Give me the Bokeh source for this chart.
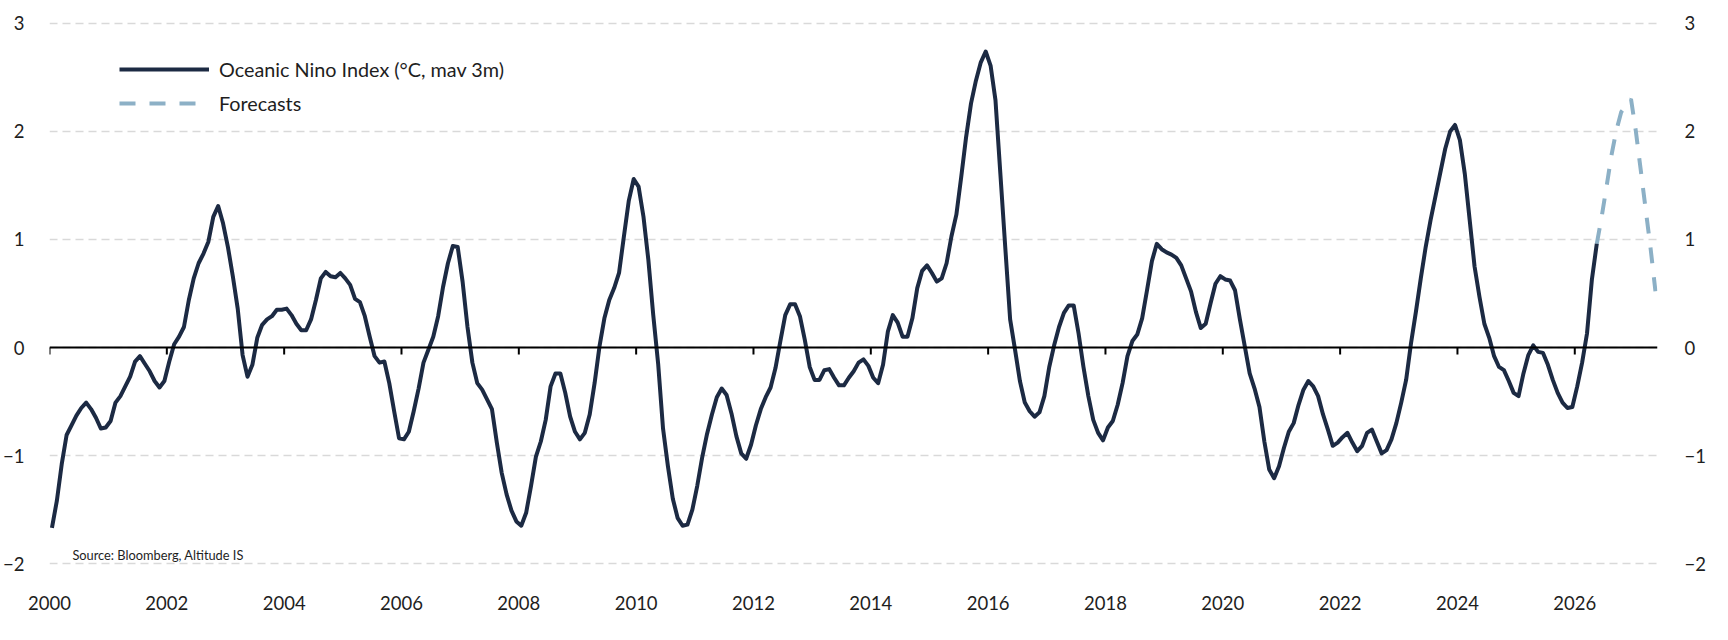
import numpy as np
from bokeh.plotting import figure
from bokeh.models import Range1d, FixedTicker, LinearAxis, Span, Legend, LegendItem, Label
from bokeh.embed import file_html
from bokeh.resources import INLINE

# ---------------- data (monthly, starting Jan 2000) ----------------
START_YEAR = 2000
oni = [
    # 2000
    -1.67, -1.42, -1.08, -0.81, -0.72, -0.63, -0.56, -0.51, -0.57, -0.65, -0.75, -0.74,
    # 2001
    -0.68, -0.51, -0.45, -0.36, -0.27, -0.13, -0.08, -0.15, -0.22, -0.31, -0.37, -0.31,
    # 2002
    -0.13, 0.03, 0.10, 0.19, 0.44, 0.64, 0.78, 0.87, 0.98, 1.21, 1.31, 1.15,
    # 2003
    0.93, 0.66, 0.36, -0.07, -0.27, -0.16, 0.09, 0.21, 0.26, 0.29, 0.35, 0.35,
    # 2004
    0.36, 0.30, 0.22, 0.16, 0.16, 0.26, 0.44, 0.64, 0.70, 0.66, 0.65, 0.69,
    # 2005
    0.64, 0.58, 0.45, 0.42, 0.29, 0.10, -0.08, -0.14, -0.13, -0.33, -0.59, -0.84,
    # 2006
    -0.85, -0.78, -0.59, -0.38, -0.14, -0.02, 0.10, 0.29, 0.56, 0.78, 0.94, 0.93,
    # 2007
    0.61, 0.19, -0.14, -0.33, -0.39, -0.48, -0.57, -0.88, -1.16, -1.36, -1.51, -1.61,
    # 2008
    -1.65, -1.53, -1.28, -1.01, -0.87, -0.67, -0.36, -0.24, -0.24, -0.42, -0.64, -0.78,
    # 2009
    -0.85, -0.79, -0.62, -0.33, 0.01, 0.27, 0.44, 0.55, 0.69, 1.03, 1.36, 1.56,
    # 2010
    1.49, 1.21, 0.81, 0.30, -0.15, -0.75, -1.10, -1.40, -1.58, -1.65, -1.64, -1.50,
    # 2011
    -1.28, -1.02, -0.80, -0.62, -0.46, -0.38, -0.44, -0.61, -0.82, -0.98, -1.03, -0.90,
    # 2012
    -0.72, -0.57, -0.46, -0.37, -0.19, 0.06, 0.30, 0.40, 0.40, 0.29, 0.07, -0.18,
    # 2013
    -0.30, -0.30, -0.21, -0.20, -0.28, -0.35, -0.35, -0.28, -0.22, -0.14, -0.11, -0.17,
    # 2014
    -0.28, -0.33, -0.16, 0.15, 0.30, 0.23, 0.10, 0.10, 0.27, 0.55, 0.71, 0.76,
    # 2015
    0.69, 0.61, 0.64, 0.78, 1.03, 1.23, 1.58, 1.95, 2.26, 2.47, 2.64, 2.74,
    # 2016
    2.61, 2.29, 1.61, 0.93, 0.26, -0.02, -0.31, -0.51, -0.59, -0.64, -0.60, -0.45,
    # 2017
    -0.18, 0.02, 0.19, 0.32, 0.39, 0.39, 0.13, -0.18, -0.45, -0.67, -0.79, -0.86,
    # 2018
    -0.74, -0.68, -0.53, -0.33, -0.08, 0.06, 0.12, 0.27, 0.53, 0.80, 0.96, 0.91,
    # 2019
    0.88, 0.86, 0.83, 0.76, 0.64, 0.52, 0.33, 0.18, 0.22, 0.41, 0.59, 0.66,
    # 2020
    0.63, 0.62, 0.53, 0.26, 0.01, -0.24, -0.38, -0.55, -0.87, -1.13, -1.21, -1.10,
    # 2021
    -0.93, -0.78, -0.70, -0.53, -0.39, -0.31, -0.36, -0.45, -0.62, -0.76, -0.91, -0.88,
    # 2022
    -0.83, -0.79, -0.88, -0.96, -0.91, -0.79, -0.76, -0.87, -0.98, -0.95, -0.85, -0.70,
    # 2023
    -0.51, -0.30, 0.04, 0.33, 0.64, 0.93, 1.18, 1.40, 1.62, 1.84, 2.00, 2.06,
    # 2024
    1.92, 1.61, 1.18, 0.75, 0.47, 0.22, 0.09, -0.08, -0.18, -0.21, -0.31, -0.42,
    # 2025
    -0.45, -0.24, -0.07, 0.02, -0.04, -0.05, -0.16, -0.30, -0.42, -0.51, -0.56, -0.55,
    # 2026
    -0.36, -0.14, 0.13, 0.63, 0.96,
]
# forecast path, starting from the last observed month
forecast = [0.96, 1.21, 1.49, 1.78, 2.01, 2.18, 2.24, 2.30, 2.00, 1.64, 1.28, 0.92, 0.52]

x_ticks = [2000, 2002, 2004, 2006, 2008, 2010, 2012, 2014, 2016, 2018, 2020, 2022, 2024, 2026]
x_tick_labels = [str(t) for t in x_ticks]
y_ticks = [-2, -1, 0, 1, 2, 3]

series_label = "Oceanic Nino Index (°C, mav 3m)"
forecast_label = "Forecasts"
source_text = "Source: Bloomberg, Altitude IS"

# ---------------- styling ----------------
NAVY = "#1c2a43"
FC_COL = "#8cb0c6"
GRID = "#d9d9d9"
TXT = "#1e1e1e"
FONT = "Lato"

n = len(oni)
x_oni = START_YEAR + (np.arange(n) + 0.5) / 12.0
x_fc = START_YEAR + (np.arange(n - 1, n - 1 + len(forecast)) + 0.5) / 12.0

p = figure(width=1710, height=620, output_backend="svg", toolbar_location=None,
           x_range=Range1d(2000, 2027.41), y_range=Range1d(-2.055, 3.055),
           min_border_left=39, min_border_right=53, min_border_top=17, min_border_bottom=51)
p.outline_line_color = None
p.background_fill_color = "white"
p.border_fill_color = "white"

# x axis
p.xaxis.ticker = FixedTicker(ticks=x_ticks)
p.xaxis.major_label_overrides = dict(zip(x_ticks, x_tick_labels))
p.xaxis.axis_line_color = None
p.xaxis.major_tick_line_color = None
p.xaxis.minor_tick_line_color = None
p.xaxis.major_label_standoff = 20
p.xaxis.major_label_text_font = FONT
p.xaxis.major_label_text_font_size = "18.5px"
p.xaxis.major_label_text_color = TXT

# y axes (left + right)
p.yaxis.ticker = FixedTicker(ticks=y_ticks)
right_axis = LinearAxis(ticker=FixedTicker(ticks=y_ticks))
p.add_layout(right_axis, "right")
for ax, so in ((p.yaxis[0], 19), (right_axis, 21)):
    ax.axis_line_color = None
    ax.major_tick_line_color = None
    ax.minor_tick_line_color = None
    ax.major_label_standoff = so
    ax.major_label_text_font = FONT
    ax.major_label_text_font_size = "18.5px"
    ax.major_label_text_color = TXT

# grid
p.xgrid.visible = False
p.ygrid.ticker = FixedTicker(ticks=y_ticks)
p.ygrid.grid_line_color = GRID
p.ygrid.grid_line_dash = "8 5"
p.ygrid.grid_line_width = 1.5

# zero line with downward ticks
p.add_layout(Span(location=0, dimension="width", line_color="black", line_width=2))
p.ray(x=x_ticks, y=[0] * len(x_ticks), length=7, length_units="screen",
      angle=-np.pi / 2, line_color="black", line_width=2)

# series
r_fc = p.line(x_fc, forecast, line_color=FC_COL, line_width=4, line_dash="16 14")
r_oni = p.line(x_oni, oni, line_color=NAVY, line_width=4, line_join="round")

legend = Legend(items=[LegendItem(label=series_label, renderers=[r_oni]),
                       LegendItem(label=forecast_label, renderers=[r_fc])],
                location=(70, 454), padding=0, margin=0, spacing=10,
                glyph_width=90, glyph_height=20, label_height=20, label_standoff=10,
                label_text_font=FONT, label_text_font_size="19.8px", label_text_color=TXT,
                border_line_color=None, background_fill_alpha=0)
p.add_layout(legend)

p.add_layout(Label(x=2000.39, y=-1.92, text=source_text, text_font=FONT,
                   text_font_size="12.8px", text_baseline="middle", text_color=TXT))

open("out.html", "w").write(file_html(p, INLINE))
